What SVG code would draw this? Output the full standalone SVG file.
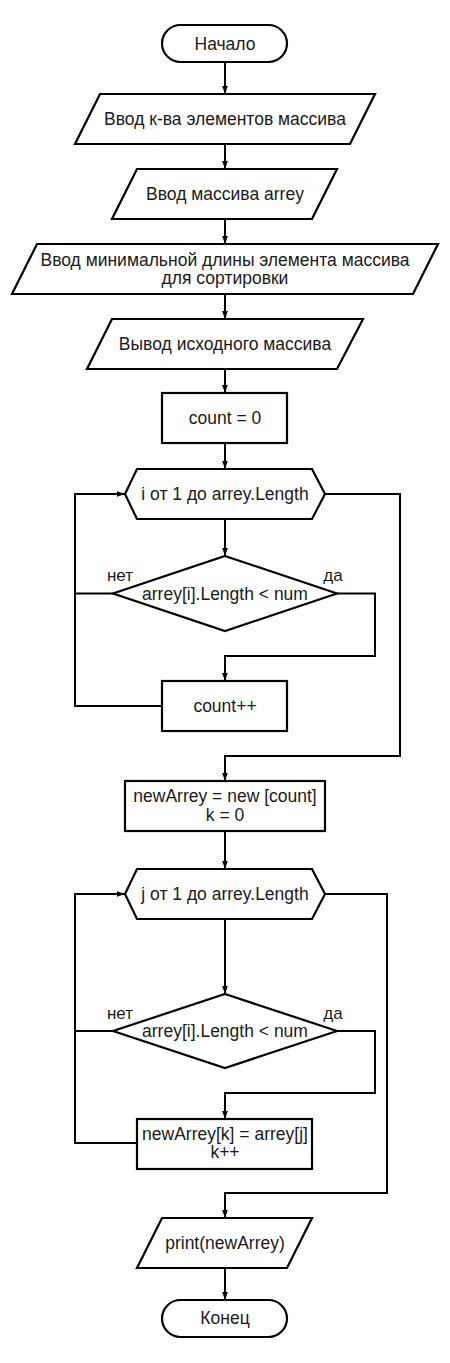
<svg xmlns="http://www.w3.org/2000/svg" width="450" height="1363" viewBox="0 0 450 1363">
<defs>
<style>
.n{fill:#fff;stroke:#000;stroke-width:2.2}
.t{font-family:"Liberation Sans",Arial,sans-serif;font-size:17.5px;fill:#1a1a1a;text-anchor:middle}
.l{font-family:"Liberation Sans",Arial,sans-serif;font-size:17px;fill:#1a1a1a;text-anchor:middle}
.c{fill:none;stroke:#000;stroke-width:2}
</style>
<marker id="a" markerUnits="userSpaceOnUse" markerWidth="9" markerHeight="7" refX="8.5" refY="3.5" orient="auto">
<path d="M0,0.5 L8.5,3.5 L0,6.5 z" fill="#000"/>
</marker>
</defs>
<rect width="450" height="1363" fill="#fff"/>
<g id="connectors">
<path class="c" d="M225,62 V94" marker-end="url(#a)"/>
<path class="c" d="M225,144 V169" marker-end="url(#a)"/>
<path class="c" d="M225,219 V244" marker-end="url(#a)"/>
<path class="c" d="M225,294 V319" marker-end="url(#a)"/>
<path class="c" d="M225,369 V393" marker-end="url(#a)"/>
<path class="c" d="M225,443 V469" marker-end="url(#a)"/>
<path class="c" d="M225,519 V556" marker-end="url(#a)"/>
<path class="c" d="M337,593.5 H375 V656 H225 V681" marker-end="url(#a)"/>
<path class="c" d="M113,593.5 H75"/>
<path class="c" d="M162,706 H75 V494 H125" marker-end="url(#a)"/>
<path class="c" d="M325,494 H400 V756 H225 V781" marker-end="url(#a)"/>
<path class="c" d="M225,831 V869" marker-end="url(#a)"/>
<path class="c" d="M225,919 V994" marker-end="url(#a)"/>
<path class="c" d="M337,1031 H375 V1093 H225 V1119" marker-end="url(#a)"/>
<path class="c" d="M113,1031 H75"/>
<path class="c" d="M137,1143 H75 V894 H125" marker-end="url(#a)"/>
<path class="c" d="M325,894 H387 V1193 H225 V1218" marker-end="url(#a)"/>
<path class="c" d="M225,1268 V1300" marker-end="url(#a)"/>
</g>
<g id="start">
<rect class="n" x="162" y="25" width="125" height="37" rx="18.5"/>
<text class="t" x="225" y="49.5">Начало</text>
</g>
<g id="input-count">
<polygon class="n" points="100,94 375,94 350,144 75,144"/>
<text class="t" x="225" y="125">Ввод к-ва элементов массива</text>
</g>
<g id="input-array">
<polygon class="n" points="137,169 337,169 312,219 112,219"/>
<text class="t" x="225" y="200">Ввод массива arrey</text>
</g>
<g id="input-minlen">
<polygon class="n" points="37,244 438,244 413,294 12,294"/>
<text class="t" x="225" y="265.5">Ввод минимальной длины элемента массива</text>
<text class="t" x="225" y="284">для сортировки</text>
</g>
<g id="output-source">
<polygon class="n" points="112,319 363,319 337,369 87,369"/>
<text class="t" x="225" y="350">Вывод исходного массива</text>
</g>
<g id="count-init">
<rect class="n" x="162" y="393" width="125" height="50"/>
<text class="t" x="225" y="424">count = 0</text>
</g>
<g id="loop-i">
<polygon class="n" points="125,494 137,469 312,469 325,494 312,519 137,519"/>
<text class="t" x="225" y="500">i от 1 до arrey.Length</text>
</g>
<g id="cond-1">
<polygon class="n" points="225,556 337,593.5 225,631 113,593.5"/>
<text class="t" x="225" y="599.5">arrey[i].Length &lt; num</text>
<text class="l" x="120" y="581">нет</text>
<text class="l" x="333" y="581">да</text>
</g>
<g id="count-inc">
<rect class="n" x="162" y="681" width="125" height="50"/>
<text class="t" x="225" y="712">count++</text>
</g>
<g id="new-array">
<rect class="n" x="125" y="781" width="200" height="50"/>
<text class="t" x="225" y="802">newArrey = new [count]</text>
<text class="t" x="225" y="820.5">k = 0</text>
</g>
<g id="loop-j">
<polygon class="n" points="125,894 137,869 312,869 325,894 312,919 137,919"/>
<text class="t" x="225" y="900">j от 1 до arrey.Length</text>
</g>
<g id="cond-2">
<polygon class="n" points="225,994 337,1031 225,1068 113,1031"/>
<text class="t" x="225" y="1037">arrey[i].Length &lt; num</text>
<text class="l" x="120" y="1019">нет</text>
<text class="l" x="333" y="1019">да</text>
</g>
<g id="assign">
<rect class="n" x="137" y="1119" width="175" height="50"/>
<text class="t" x="225" y="1139.5">newArrey[k] = arrey[j]</text>
<text class="t" x="225" y="1158">k++</text>
</g>
<g id="print">
<polygon class="n" points="162,1218 312,1218 287,1268 137,1268"/>
<text class="t" x="225" y="1249">print(newArrey)</text>
</g>
<g id="end">
<rect class="n" x="162" y="1300" width="125" height="37" rx="18.5"/>
<text class="t" x="225" y="1324">Конец</text>
</g>
</svg>
